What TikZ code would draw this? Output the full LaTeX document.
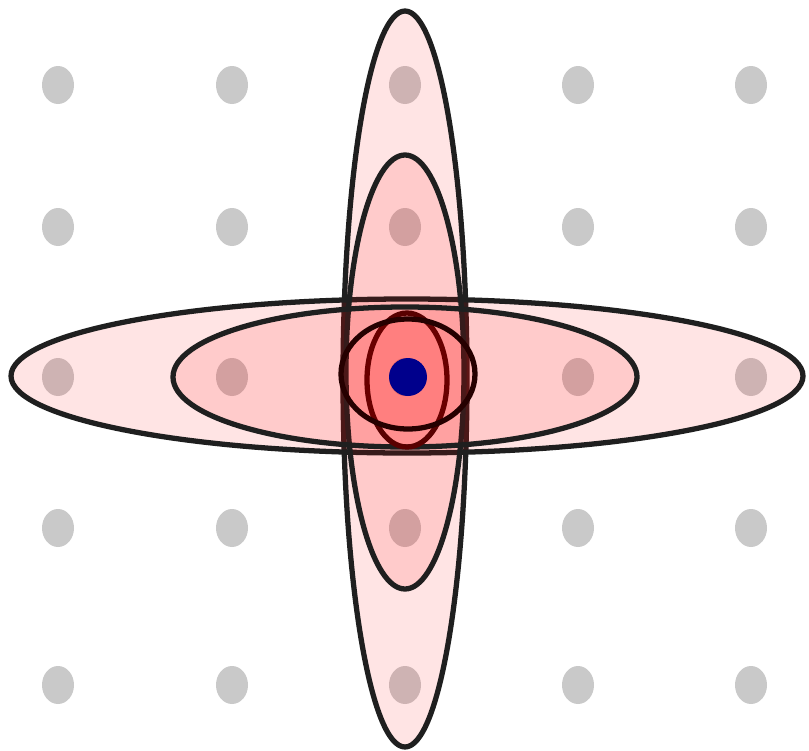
\documentclass[tikz,border=0pt]{standalone}
\begin{document}
\begin{tikzpicture}[x=0.02cm,y=-0.02cm,
  gdot/.style={fill=black!21},
  lobe/.style={fill=red,fill opacity=0.105,draw=black!88,line width=3pt,draw opacity=1}]
\useasboundingbox (0,0) rectangle (809,751);
\fill[white] (0,0) rectangle (809,751);
% grid of dots
\foreach \x in {58,232,405,578,751}
  \foreach \y in {85,227,377,528,685}
    \fill[gdot] (\x,\y) ellipse [x radius=16, y radius=19];
% lobes
\filldraw[lobe] (405,379) ellipse [x radius=62, y radius=368];
\filldraw[lobe] (407,376) ellipse [x radius=396, y radius=77];
\filldraw[lobe] (405,372) ellipse [x radius=59, y radius=217];
\filldraw[lobe] (405,377) ellipse [x radius=232, y radius=70];
\filldraw[lobe,draw=red!35!black] (407,380) ellipse [x radius=40, y radius=67];
\filldraw[lobe,draw=black!85!red] (408,374) ellipse [x radius=67, y radius=55];
% centre
\fill[fill={rgb,255:red,0;green,0;blue,140}] (408,377) circle [radius=19];
\end{tikzpicture}
\end{document}
